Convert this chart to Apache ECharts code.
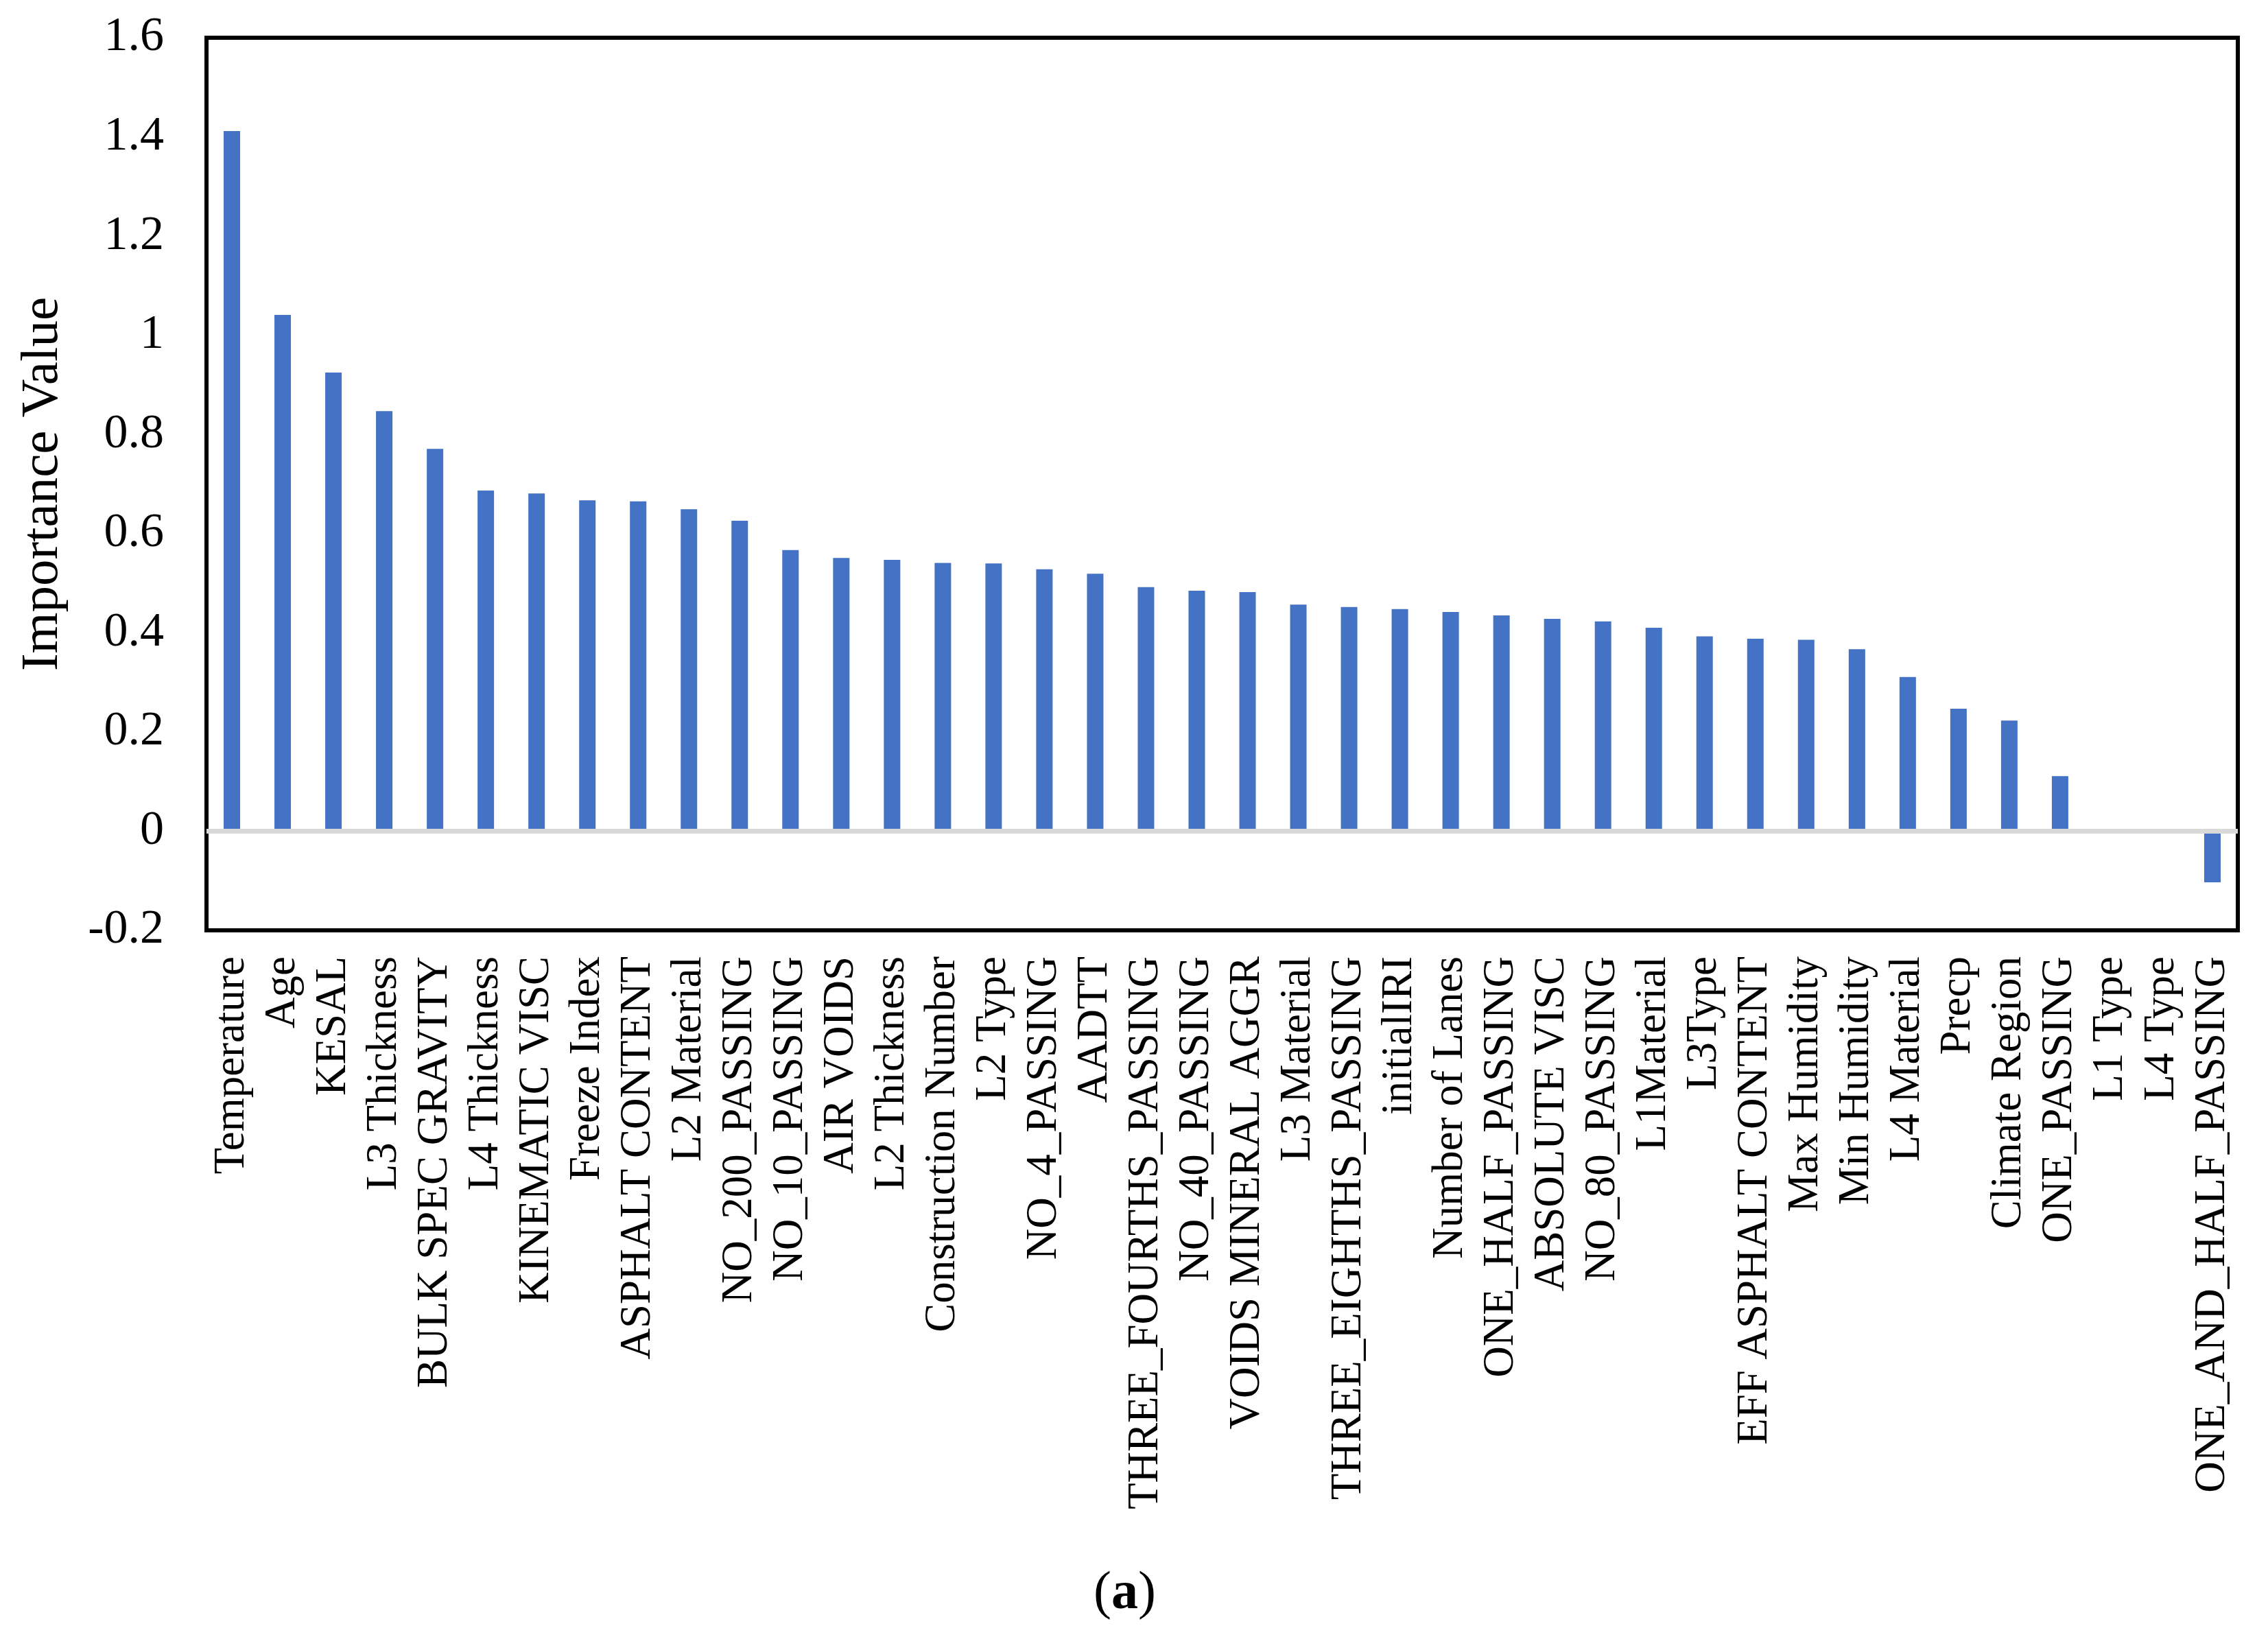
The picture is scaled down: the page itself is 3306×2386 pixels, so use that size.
<!DOCTYPE html>
<html>
<head>
<meta charset="utf-8">
<script src="https://cdn.jsdelivr.net/npm/echarts@6/dist/echarts.min.js"></script>
<style>
html,body{margin:0;padding:0;background:#fff;}
#chart{width:3306px;height:2386px;}
</style>
</head>
<body>
<div id="chart"></div>
<script>
const categories = [
  'Temperature','Age','KESAL','L3 Thickness','BULK SPEC GRAVITY','L4 Thickness','KINEMATIC VISC',
  'Freeze Index','ASPHALT CONTENT','L2 Material','NO_200_PASSING','NO_10_PASSING','AIR VOIDS',
  'L2 Thickness','Construction Number','L2 Type','NO_4_PASSING','AADTT','THREE_FOURTHS_PASSING',
  'NO_40_PASSING','VOIDS MINERAL AGGR','L3 Material','THREE_EIGHTHS_PASSING','initialIRI',
  'Number of Lanes','ONE_HALF_PASSING','ABSOLUTE VISC','NO_80_PASSING','L1Material','L3Type',
  'EFF ASPHALT CONTENT','Max Humidity','Min Humidity','L4 Material','Precp','Climate Region',
  'ONE_PASSING','L1 Type','L4 Type','ONE_AND_HALF_PASSING'
];
const importanceValues = [
  1.412, 1.041, 0.925, 0.847, 0.771, 0.687, 0.681,
  0.667, 0.665, 0.649, 0.626, 0.567, 0.551,
  0.547, 0.541, 0.540, 0.528, 0.519, 0.492,
  0.485, 0.482, 0.457, 0.452, 0.448,
  0.442, 0.435, 0.428, 0.423, 0.410, 0.393,
  0.388, 0.386, 0.367, 0.311, 0.247, 0.223,
  0.111, 0, 0, -0.103
];
const yMin = -0.2, yMax = 1.6, yStep = 0.2;
const yTitle = 'Importance Value';

const FONT = "'Liberation Serif', 'Times New Roman', serif";
const chart = echarts.init(document.getElementById('chart'), null, {renderer: 'canvas'});
chart.setOption({
  animation: false,
  backgroundColor: '#ffffff',
  title: {
    text: '{n|(}{b|a}{n|)}',
    left: 1589,
    top: 2280,
    textStyle: {
      fontWeight: 'normal',
      rich: {
        n: {fontFamily: FONT, fontSize: 78, fontWeight: 'normal', color: '#000'},
        b: {fontFamily: FONT, fontSize: 78, fontWeight: 'bold', color: '#000'}
      }
    }
  },
  grid: {
    left: 301, right: 44, top: 55, bottom: 1030,
    show: true, borderColor: '#000', borderWidth: 6, backgroundColor: 'transparent'
  },
  xAxis: {
    type: 'category',
    data: categories,
    axisLine: {show: false, onZero: false},
    axisTick: {show: false},
    axisLabel: {
      interval: 0, rotate: 90, margin: 38,
      fontFamily: FONT, fontSize: 63, color: '#000'
    },
    splitLine: {show: false}
  },
  yAxis: {
    type: 'value',
    min: yMin, max: yMax, interval: yStep,
    name: yTitle,
    nameLocation: 'middle',
    nameRotate: 90,
    nameGap: 200,
    nameTextStyle: {fontFamily: FONT, fontSize: 77, color: '#000'},
    axisLine: {show: false},
    axisTick: {show: false},
    splitLine: {show: false},
    axisLabel: {
      margin: 62, fontFamily: FONT, fontSize: 70, color: '#000',
      formatter: v => String(Math.round(v * 10) / 10)
    }
  },
  series: [{
    type: 'bar',
    data: importanceValues,
    barWidth: 24,
    itemStyle: {color: '#4472C4'},
    markLine: {
      silent: true,
      symbol: 'none',
      label: {show: false},
      lineStyle: {color: '#D9D9D9', width: 7, type: 'solid'},
      data: [{yAxis: 0}]
    }
  }]
});
</script>
</body>
</html>
